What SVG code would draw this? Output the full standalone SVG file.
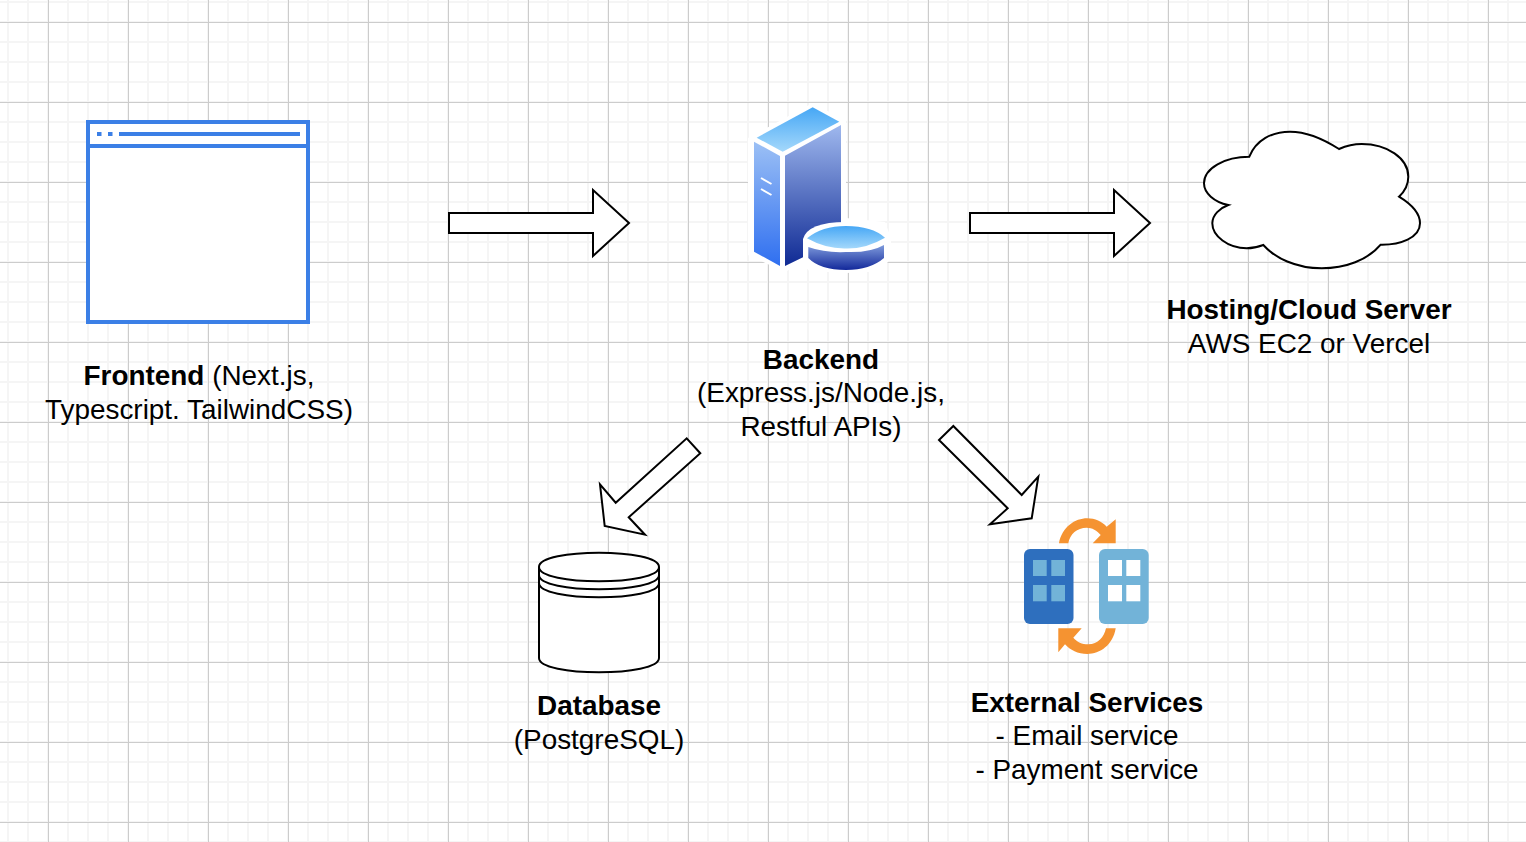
<svg xmlns="http://www.w3.org/2000/svg" width="1526" height="842" viewBox="0 0 1526 842">
<style>
.ln{fill:#fff;stroke:#000;stroke-width:2;stroke-linejoin:miter}
.o{fill:none;stroke:#000;stroke-width:2}
text{font-family:"Liberation Sans",Arial,sans-serif;font-size:27.900px;fill:#000;text-anchor:middle}
.b{font-weight:700}
.fb{fill:none;stroke:#3b7fe6;stroke-width:4}
.fd{fill:#3b7fe6}
.or{fill:#f59331}
.w1{fill:#72b3d8}
.w2{fill:#fff}
</style>
<defs>
<pattern id="minor" width="20" height="20" patternUnits="userSpaceOnUse" x="-2" y="1">
<rect x="9" width="2" height="20" fill="#f5f5f5"/><rect y="0" width="20" height="2" fill="#f5f5f5"/>
</pattern>
<pattern id="major" width="80" height="80" patternUnits="userSpaceOnUse" x="48" y="22">
<rect x="0" width="1" height="80" fill="#cccccc"/><rect y="0" width="80" height="1" fill="#cccccc"/>
</pattern>
<linearGradient id="gTop" x1="0" y1="0" x2="0" y2="1"><stop offset="0" stop-color="#46a7f5"/><stop offset="1" stop-color="#a4d8fb"/></linearGradient>
<linearGradient id="gLeft" x1="0" y1="0" x2="0" y2="1"><stop offset="0" stop-color="#9cc0f5"/><stop offset="1" stop-color="#2f6ff0"/></linearGradient>
<linearGradient id="gRight" x1="0" y1="0" x2="0" y2="1"><stop offset="0" stop-color="#9fb8ee"/><stop offset="1" stop-color="#0f2a94"/></linearGradient>
<linearGradient id="gDisk" x1="0" y1="0" x2="0" y2="1"><stop offset="0" stop-color="#7f9bdc"/><stop offset="1" stop-color="#12289a"/></linearGradient>
</defs>
<rect width="1526" height="842" fill="#fff"/>
<rect width="1526" height="842" fill="url(#minor)"/>
<rect width="1526" height="842" fill="url(#major)"/>

<g id="connectors">
<polygon class="ln" points="449,213 593,213 593,190 629,223 593,256 593,233 449,233"/>
<polygon class="ln" points="970,213 1114,213 1114,190 1150,223 1114,256 1114,233 970,233"/>
<polygon class="ln" points="686.7,438.3 700.3,453.3 628.7,517.3 645,534.7 604.7,526 600,484.3 615.7,502.7"/>
<polygon class="ln" points="953.300,426 939,440 1007.700,508.300 990,524.300 1031.700,518.300 1038.300,476.700 1021.700,495"/>
</g>

<g id="frontend">
<rect x="88" y="122" width="220" height="200" class="fb" style="fill:#fff"/>
<line class="fb" x1="88" y1="146" x2="308" y2="146"/>
<rect class="fd" x="97" y="132" width="4.500" height="4"/><rect class="fd" x="108" y="132" width="4.500" height="4"/><rect class="fd" x="119" y="132" width="181" height="4"/>
<text x="199" y="385"><tspan class="b">Frontend</tspan> (Next.js,</text>
<text x="199" y="419">Typescript. TailwindCSS)</text>
</g>

<g id="backend">
<polygon fill="#fff" points="812.700,103 846,121 846,218 885,222 891,238 891,258 880,272 810,272 802,263 785,272 748,255 748,138"/>
<polygon fill="url(#gTop)" points="812.700,107.300 839.300,121.700 782.700,151.700 756.700,137.700"/>
<polygon fill="url(#gLeft)" points="754,141.700 780,156 780,266 754,251.700"/>
<polygon fill="url(#gRight)" points="785,155.700 841,125 841,225 803,240 803,257.300 785,266"/>
<path d="M761 178 L771.500 184 M761 189 L771.500 195" stroke="#fff" stroke-width="2" fill="none"/>
<path d="M803 239 Q808 222 846 222 Q880 222 888 238 V258 Q880 273 846 273 Q812 273 803 258 Z" fill="#fff"/>
<path d="M808.300 247 Q825 253 846 252 Q870 253 884 245 V258 Q870 270 846 270 Q820 270 808.300 258 Z" fill="url(#gDisk)"/>
<path d="M807 238.300 Q822 226 846 226 Q872 226 885 237.700 Q866 249 846 248.500 Q826 249 807 238.300 Z" fill="url(#gTop)"/>
<text x="821" y="369" class="b">Backend</text>
<text x="821" y="402">(Express.js/Node.js,</text>
<text x="821" y="436">Restful APIs)</text>
</g>

<g id="cloud">
<path class="ln" d="M1249.300 156.700 C1256 140 1272 131.700 1290 131.700 C1308 131.700 1325 140 1339 149 C1347 145.500 1354 144 1361.700 144 C1387 144 1408.300 158 1408.300 176.700 C1408.300 185 1404 192 1399 196.700 C1411 204 1420 213 1420 223.300 C1420 238 1400 245 1380.700 244.700 C1368 260 1345 268.300 1321.700 268.300 C1296 268.300 1275 258 1263.300 245 C1258 247 1252 248.300 1246.700 248.300 C1228 248.300 1212.300 236 1212.300 223.300 C1212.300 215 1220 208 1228.300 205 C1214 202 1204 193 1204 183.300 C1204 168 1225 156.700 1249.300 156.700 Z"/>
<text x="1309" y="319" class="b">Hosting/Cloud Server</text>
<text x="1309" y="353">AWS EC2 or Vercel</text>
</g>

<g id="database">
<path class="ln" d="M539 567 C539 548 659 548 659 567 V658 C659 677 539 677 539 658 Z"/>
<path class="o" d="M539 567 C539 586 659 586 659 567 M539 575 C539 594 659 594 659 575 M539 583 C539 602 659 602 659 583"/>
<text x="599" y="715" class="b">Database</text>
<text x="599" y="749">(PostgreSQL)</text>
</g>

<g id="external">
<rect x="1024" y="549" width="49.500" height="75" rx="6" fill="#2e6fbe"/>
<rect x="1099" y="549" width="49.700" height="75" rx="6" class="w1"/>
<g class="w1"><rect x="1033" y="560" width="13.700" height="16"/><rect x="1051.300" y="560" width="13.700" height="16"/><rect x="1033" y="585" width="13.700" height="16.300"/><rect x="1051.300" y="585" width="13.700" height="16.300"/></g>
<g class="w2"><rect x="1108" y="560" width="14" height="16"/><rect x="1126.300" y="560" width="14" height="16"/><rect x="1108" y="585" width="14" height="16.300"/><rect x="1126.300" y="585" width="14" height="16.300"/></g>
<path class="or" d="M1059 543.300 C1062 527 1075 518.300 1087.300 518.300 C1095 518.300 1102 521.500 1106.700 526.700 L1115.700 519.300 V543.300 H1092.700 L1100.700 535 C1097 530.500 1092 527.700 1086.700 527.700 C1077 527.700 1070 534 1068.300 543.300 Z"/>
<path class="or" d="M1115.700 628.300 C1113 645 1100 654 1087.300 654 C1078 654 1070 650 1065 644.300 L1058.300 652.300 V628.300 H1081.700 L1073.300 637.700 C1077 642 1082 644.300 1088.300 644.300 C1098 644.300 1104 637 1106 628.300 Z"/>
<text x="1087" y="712" class="b">External Services</text>
<text x="1087" y="745">- Email service</text>
<text x="1087" y="779">- Payment service</text>
</g>
</svg>
